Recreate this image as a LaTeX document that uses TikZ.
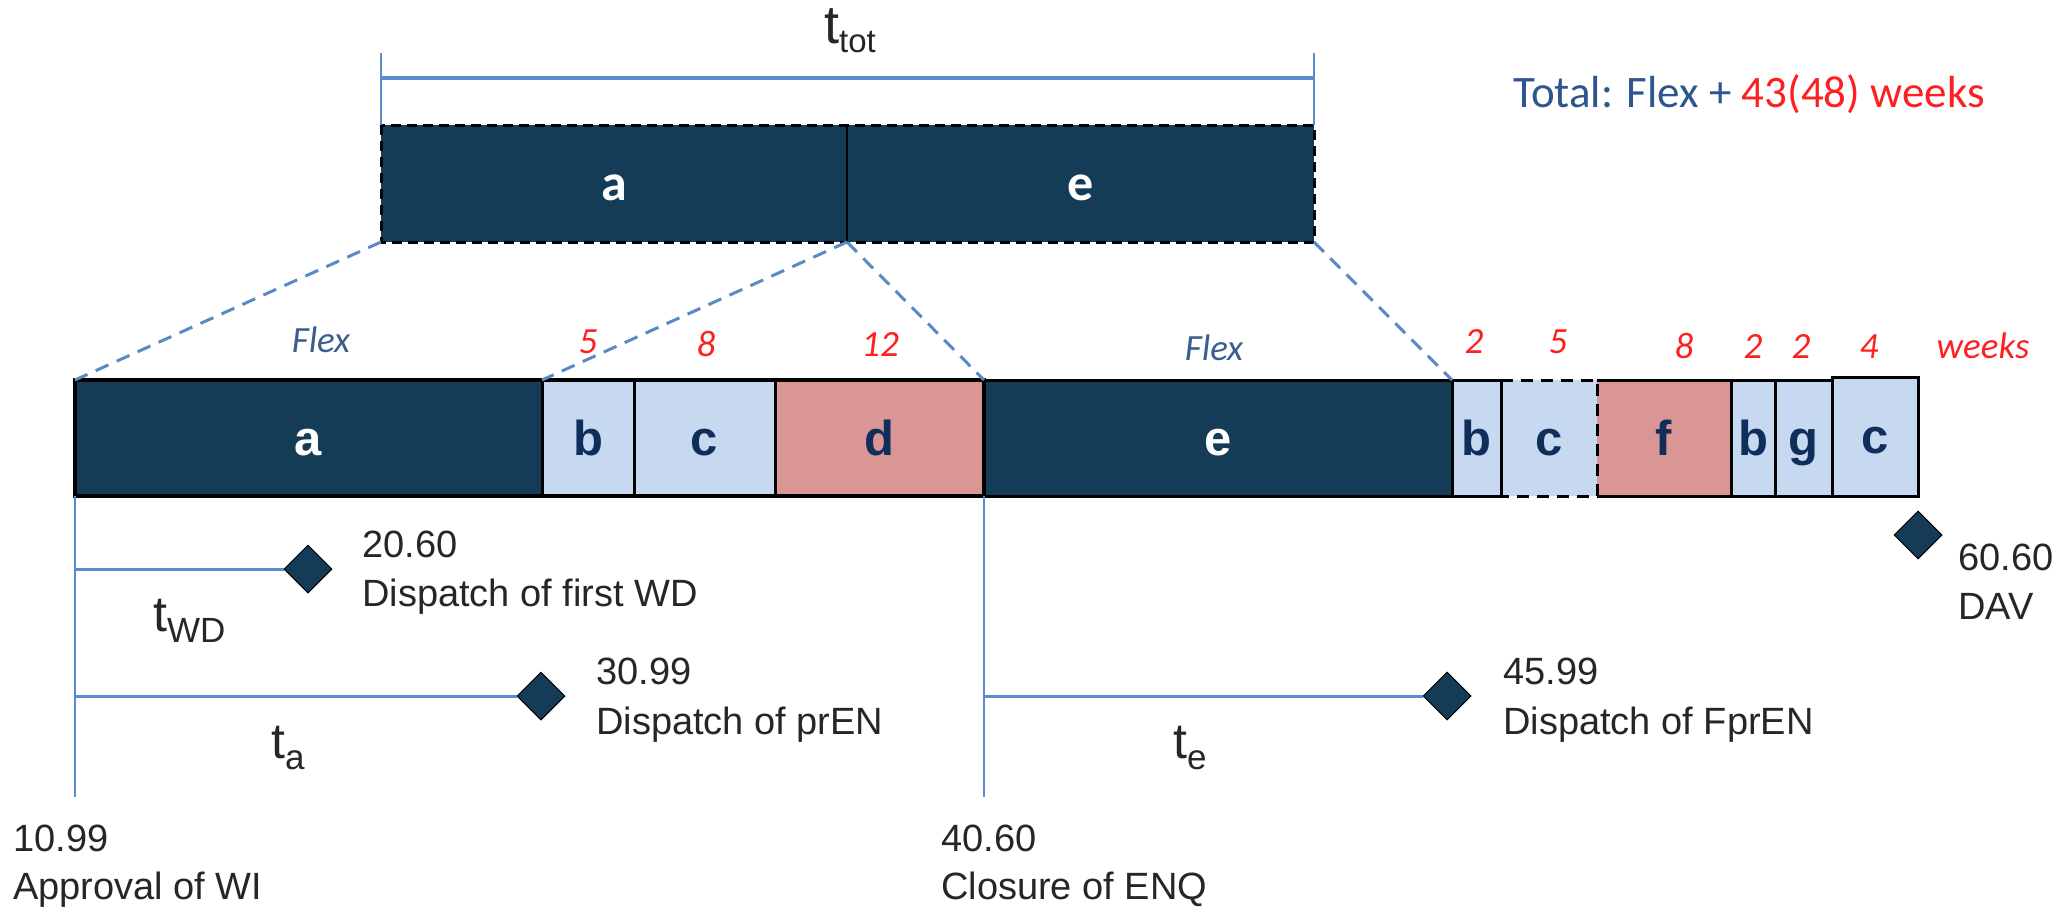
\documentclass[tikz,border=0pt]{standalone}
\usepackage{fontspec}
\setmainfont{Liberation Sans}
\newfontfamily\carl{Carlito}
\usetikzlibrary{shapes.geometric}
\definecolor{navy}{HTML}{153C57}
\definecolor{lblue}{HTML}{C6D9F0}
\definecolor{pinkr}{HTML}{D99694}
\definecolor{ltxt}{HTML}{0F2E5C}
\definecolor{bline}{HTML}{5B8BD0}
\definecolor{dline}{HTML}{5A8AC6}
\definecolor{flexc}{HTML}{3A5F8F}
\definecolor{totc}{HTML}{2F5590}
\definecolor{redw}{HTML}{FF1F1F}
\newcommand{\tsub}[1]{{\fontsize{50}{56}\selectfont t}\raisebox{-11pt}{\fontsize{35}{40}\selectfont #1}}
\begin{document}
\begin{tikzpicture}[x=1pt,y=-1pt,
  seg/.style={rectangle, inner sep=0, outer sep=0, minimum height=116, anchor=north west,
    text height=34, text depth=0, font=\fontsize{49}{55}\selectfont\bfseries},
  darkseg/.style={seg, fill=navy, draw=black, line width=3, text=white},
  lightseg/.style={seg, fill=lblue, draw=black, line width=3, text=ltxt},
  pinkseg/.style={seg, fill=pinkr, draw=black, line width=3, text=ltxt},
  topseg/.style={rectangle, inner sep=0, outer sep=0, minimum height=117, anchor=north west,
    fill=navy, text=white, text height=33, text depth=0, font=\fontsize{52}{58}\selectfont\carl\bfseries},
  blueln/.style={draw=bline, line width=3},
  zoomln/.style={draw=dline, line width=3, dash pattern=on 14 off 9},
  ms/.style={diamond, fill=navy, draw=black, line width=1, minimum width=48, minimum height=48, inner sep=0},
  lbl/.style={anchor=base west, inner sep=0, font=\fontsize{38}{44}\selectfont, text=black!85},
  wk/.style={anchor=base, inner sep=0, font=\fontsize{37}{42}\selectfont\carl\itshape, text=redw},
  flexl/.style={wk, text=flexc}
]
\useasboundingbox (0,0) rectangle (2066,911);

% top bar
\node[topseg, minimum width=466] (ta) at (381,125) {a};
\node[topseg, minimum width=467] (te) at (847,125) {e};
\draw[black, line width=3, dash pattern=on 10 off 6] (ta.north west) rectangle (te.south east);
\draw[black, line width=2] (ta.north east) -- (ta.south east);

% t_tot bracket
\coordinate (tl) at (381,53);
\coordinate (tr) at (1314,53);
\coordinate (bl) at (381,78);
\coordinate (br) at (1314,78);
\draw[blueln, line width=2] (tl) -- (ta.north west);
\draw[blueln, line width=2] (tr) -- (te.north east);
\draw[blueln, line width=4] (bl) -- (br);
\node[anchor=base west, inner sep=0, text=black!85] (ttot) at (824,43)
  {{\fontsize{54}{60}\selectfont t}\raisebox{-9pt}{\fontsize{33}{38}\selectfont tot}};

% total text
\node[anchor=base west, inner sep=0, font=\fontsize{45}{50}\selectfont\carl] (total) at (1513,107)
  {\textcolor{totc}{Total: Flex +} \textcolor{redw}{43(48) weeks}};

% lower bar
\node[darkseg, minimum width=467] (la) at (75,380) {a};
\node[lightseg, minimum width=92] (lb) at (542,380) {b};
\node[lightseg, minimum width=141] (lc) at (634,380) {c};
\node[pinkseg, minimum width=209] (ld) at (775,380) {d};
\node[darkseg, minimum width=468] (le) at (984,380) {e};
\node[seg, fill=lblue, text=ltxt, minimum width=96] (lc2) at (1501,380) {c};
\node[seg, fill=pinkr, text=ltxt, minimum width=134] (lf) at (1597,380) {f};
\draw[black, line width=3] (lf.north west) -- (lf.north east) -- (lf.south east) -- (lf.south west);
\draw[black, line width=3, dash pattern=on 12 off 8] (lc2.north west) -- (lc2.north east) -- (lc2.south east) -- (lc2.south west);
\node[lightseg, minimum width=49] (lb2) at (1452,380) {b};
\node[lightseg, minimum width=44] (lb3) at (1731,380) {b};
\node[lightseg, minimum width=57] (lg) at (1775,380) {g};
\node[lightseg, minimum width=86, minimum height=119] (lc3) at (1832,377) {c};
\draw[black, line width=4] (la.north west) rectangle (ld.south east);

% zoom lines
\draw[zoomln] (ta.south west) -- (la.north west);
\draw[zoomln] (ta.south east) -- (lb.north west);
\draw[zoomln] (ta.south east) -- (ld.north east);
\draw[zoomln] (te.south east) -- (le.north east);

% week labels
\node[flexl] (fx1) at (321,352) {Flex};
\node[wk] (w5) at (588,353) {5};
\node[wk] (w8) at (706,356) {8};
\node[wk] (w12) at (880,356) {12};
\node[flexl] (fx2) at (1214,360) {Flex};
\node[wk] (v2a) at (1474,353) {2};
\node[wk] (v5) at (1558,353) {5};
\node[wk] (v8) at (1684,358) {8};
\node[wk] (v2b) at (1753,358) {2};
\node[wk] (v2c) at (1801,358) {2};
\node[wk] (v4) at (1869,358) {4};
\node[wk] (wks) at (1983,358) {weeks};

% timeline lines
\coordinate (v1) at (75,797);
\coordinate (v2) at (984,797);
\draw[blueln, line width=2.5] (la.south west) -- (v1);
\draw[blueln, line width=2.5] (ld.south east) -- (v2);
\coordinate (hwd) at (75,569);
\coordinate (ha) at (75,696);
\coordinate (he) at (984,696);
\node[ms] (dwd) at (308,569) {};
\node[ms] (dpr) at (541,696) {};
\node[ms] (dfpr) at (1447,696) {};
\node[ms] (ddav) at (1918,535) {};
\draw[blueln] (hwd) -- (dwd.west);
\draw[blueln] (ha) -- (dpr.west);
\draw[blueln] (he) -- (dfpr.west);

% t labels
\node[anchor=base west, inner sep=0, text=black!85] (twd) at (153,631) {\tsub{WD}};
\node[anchor=base west, inner sep=0, text=black!85] (tta) at (271,758) {\tsub{a}};
\node[anchor=base west, inner sep=0, text=black!85] (tte) at (1173,758) {\tsub{e}};

% milestone labels
\node[lbl] (n1) at (362,557) {20.60};
\node[lbl] (n1b) at (362,606) {Dispatch of first WD};
\node[lbl] (n2) at (596,684) {30.99};
\node[lbl] (n2b) at (596,734) {Dispatch of prEN};
\node[lbl] (n3) at (13,851) {10.99};
\node[lbl] (n3b) at (13,899) {Approval of WI};
\node[lbl] (n4) at (941,851) {40.60};
\node[lbl] (n4b) at (941,899) {Closure of ENQ};
\node[lbl] (n5) at (1503,684) {45.99};
\node[lbl] (n5b) at (1503,734) {Dispatch of FprEN};
\node[lbl] (n6) at (1958,570) {60.60};
\node[lbl] (n6b) at (1958,619) {DAV};
\end{tikzpicture}
\end{document}
